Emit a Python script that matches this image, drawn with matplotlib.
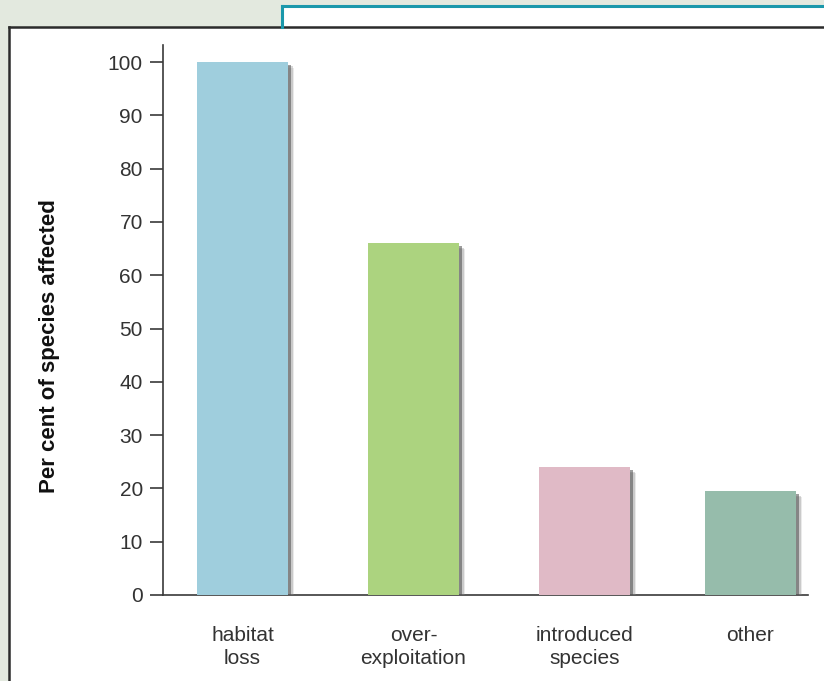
import matplotlib.pyplot as plt
import matplotlib.patheffects as pe
from matplotlib.patches import Rectangle

plt.rcParams['font.family'] = ['Liberation Sans', 'DejaVu Sans']

categories = ['habitat\nloss', 'over-\nexploitation', 'introduced\nspecies', 'other']
percent_affected = [100, 66, 24, 19.5]
bar_colors = ['#9fcedd', '#acd37f', '#e0bac6', '#96bcab']
y_ticks = list(range(0, 101, 10))

# bar positions along the x axis (last gap a touch narrower)
positions = [0, 1, 2, 2.97]

fig = plt.figure(figsize=(8.24, 6.81), dpi=100, facecolor='#e3e9df')

# white panel with dark edge along the top and left
fig.patches.append(Rectangle((9 / 824, -0.01), 1.0, (681 - 27) / 681 + 0.01,
                             transform=fig.transFigure, facecolor='white',
                             edgecolor='none', zorder=-2))
fig.add_artist(plt.Line2D([9 / 824, 1.0], [(681 - 27) / 681] * 2, transform=fig.transFigure,
                          color='#2b2b2b', lw=1.8, zorder=-1))
fig.add_artist(plt.Line2D([9 / 824] * 2, [0, (681 - 27) / 681], transform=fig.transFigure,
                          color='#2b2b2b', lw=1.8, zorder=-1))

# teal tab at the top right
fig.patches.append(Rectangle((282 / 824, (681 - 27) / 681), 1.0, 22 / 681,
                             transform=fig.transFigure, facecolor='white',
                             edgecolor='none', zorder=-2))
fig.add_artist(plt.Line2D([282 / 824, 1.0], [(681 - 5.5) / 681] * 2, transform=fig.transFigure,
                          color='#1a98ab', lw=2.2, zorder=-1))
fig.add_artist(plt.Line2D([282 / 824] * 2, [(681 - 5.5) / 681, (681 - 27) / 681],
                          transform=fig.transFigure, color='#1a98ab', lw=2.2, zorder=-1))

ax = fig.add_axes([163 / 824, (681 - 595) / 681, 645 / 824, 550 / 681])
ax.set_facecolor('none')

bars = ax.bar(positions, percent_affected, width=0.532, color=bar_colors, zorder=3)
# soft drop shadow: a few stacked offsets fading outwards
for b in bars:
    b.set_path_effects([
        pe.SimplePatchShadow(offset=(4.5, -4.0), shadow_rgbFace='0.6', alpha=0.2),
        pe.SimplePatchShadow(offset=(3.5, -3.2), shadow_rgbFace='0.5', alpha=0.3),
        pe.SimplePatchShadow(offset=(2.4, -2.2), shadow_rgbFace='0.3', alpha=0.55),
        pe.Normal(),
    ])

ax.set_xlim(-0.465, 3.307)
ax.set_ylim(0, 103.2)
ax.set_yticks(y_ticks)
ax.set_xticks(positions, categories)

for side in ['top', 'right']:
    ax.spines[side].set_visible(False)
for side in ['left', 'bottom']:
    ax.spines[side].set_color('#3a3a3a')
    ax.spines[side].set_linewidth(1.2)

ax.tick_params(axis='y', length=9.5, width=1.2, color='#3a3a3a', labelsize=15,
               labelcolor='#333333', pad=5)
ax.tick_params(axis='x', length=0, labelsize=15, labelcolor='#333333', pad=22)
for lbl in ax.get_xticklabels():
    lbl.set_linespacing(1.3)

ax.set_ylabel('Per cent of species affected', fontsize=16, fontweight='bold',
              color='#111111')
ax.yaxis.set_label_coords(-0.160, 0.453)

fig.savefig('out.png', dpi=100, facecolor=fig.get_facecolor())
